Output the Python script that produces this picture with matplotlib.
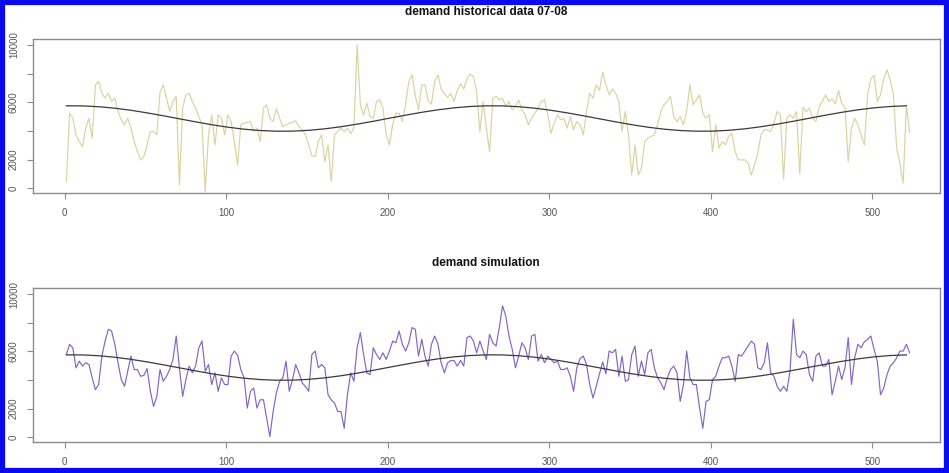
import numpy as np
import matplotlib
matplotlib.use("Agg")
import matplotlib.pyplot as plt
from matplotlib.patches import Rectangle

# ---------------- data ----------------
# observation index (every 2nd period read from the picture)
obs_x = np.arange(1, 524, 2)

historical = [
    470, 5240, 4890, 3730, 3260, 2910, 4190, 4890, 3500, 7220,
    7460, 6640, 6290, 6640, 6060, 6290, 5360, 4780, 4430, 4890,
    4190, 3260, 2560, 1980, 2210, 3030, 3960, 3960, 3730, 6710,
    7220, 6290, 5360, 6060, 6410, 230, 5590, 6520, 6640, 6060,
    5590, 5010, 4430, -250, 3730, 5130, 3030, 5130,
    4890, 3730, 5130, 4660, 3260, 1630, 4430, 4540, 4610, 4660,
    3960, 4190, 3260, 5590, 5830, 4890, 4660, 5550, 4890, 4310,
    4430, 4540, 4610, 4710, 4310, 4080, 3730, 3030, 2280, 2210,
    3260, 3730, 1860, 3030, 470, 3730, 3960, 4190, 3960, 4190,
    3840, 4190, 10020, 5830, 5130, 5940, 5010, 4890, 6060, 6170,
    5590, 3730, 3030, 4430, 5240,
    5240, 4660, 5830, 7460, 7920, 6480, 5470, 7220, 7220, 6130,
    5890, 7460, 7920, 6940, 6600, 6360, 6600, 6060, 6830, 7290,
    6940, 7640, 7970, 7800, 6710, 3960, 6060, 4190, 2560, 6290,
    6410, 6170, 6290, 5710, 6060, 5470, 5710, 6170, 5470, 5130,
    4430, 4890, 5240, 5590, 6060, 6170, 5130, 3840, 4540, 5130,
    4780, 4890, 4190, 5010, 4080, 4660,
    4430, 3730, 5360, 6640, 6290, 7220, 6830, 8110, 7220, 6520,
    6940, 6640, 6060, 3960, 5360, 3730, 930, 3030, 930, 1400,
    3260, 3500, 3610, 3730, 4430, 5360, 5830, 6060, 6410, 5010,
    4660, 5010, 4430, 5360, 7220, 5830, 6170, 6520, 5240, 4890,
    5130, 2560, 4430, 2800, 3260, 3030, 3610, 3840, 2560, 1980,
    1980, 1980, 1750, 930, 1630, 2450,
    3730, 4080, 4080, 3960, 4540, 5360, 5130, 650, 4890, 5130,
    4890, 5360, 1000, 5660, 5360, 5590, 4890, 4660, 5660, 6060,
    6520, 6060, 6240, 5890, 6830, 5890, 5660, 1860, 4190, 4890,
    4430, 3730, 3030, 6520, 7640, 7880, 6060, 6520, 7640, 8270,
    7570, 6520, 2800, 1750, 350, 5800, 3900,
]

simulation = [
    5780, 6490, 6250, 4850, 5320, 4970, 5200, 5080, 4150, 3330,
    3680, 5670, 6720, 7540, 7420, 6490, 5200, 4030, 3560, 4610,
    5670, 4730, 4730, 4260, 4330, 4800, 3210, 2150, 2860, 4730,
    3910, 4260, 4730, 5430, 7070, 4850, 2860, 4030, 4970, 4500,
    4970, 6250, 6720, 4610, 5080, 3680, 4500, 3210,
    4150, 3680, 3680, 5670, 6020, 5740, 4730, 4150, 2040, 3210,
    3440, 2040, 2620, 2620, 1330, 50, 1800, 3090, 3910, 4150,
    5320, 3210, 4030, 5080, 4500, 3790, 3560, 3210, 5780, 6020,
    4850, 5080, 4850, 2970, 2620, 2390, 1800, 1800, 630, 2970,
    4500, 3910, 6250, 7310, 5780, 4500, 4380, 6250, 5780, 5430,
    5900, 5430, 6020, 6720, 6600,
    7420, 6490, 6020, 6600, 7660, 7540, 5670, 6840, 5670, 4970,
    6490, 7070, 6530, 5200, 4500, 5200, 5360, 5360, 4970, 5360,
    4970, 6960, 7070, 6720, 5900, 6720, 6020, 5430, 7190, 6600,
    6370, 7660, 9180, 8480, 7070, 6140, 4850, 5670, 6600, 6250,
    5430, 7070, 7190, 5320, 5780, 5200, 5670, 5430, 5200, 5320,
    4730, 4730, 4850, 4260, 3210, 4850,
    5500, 5670, 5080, 3680, 2740, 3560, 4430, 5270, 4430, 6020,
    5900, 6140, 4260, 5670, 3910, 4030, 5780, 6370, 4260, 5320,
    4380, 5900, 6140, 4850, 4150, 3790, 3330, 4150, 4730, 4970,
    4500, 2510, 3680, 6020, 4150, 3680, 3680, 2040, 630, 2510,
    2620, 4030, 4260, 4970, 5550, 5550, 5670, 4970, 3910, 5780,
    5670, 6020, 6370, 6720, 6490, 4850,
    4730, 5200, 6600, 4500, 4260, 3560, 3210, 3560, 3210, 4660,
    8240, 5780, 5550, 6020, 5780, 4380, 3910, 5670, 5900, 4970,
    4970, 5430, 2970, 3910, 4970, 4030, 4850, 6960, 3680, 5550,
    6490, 6250, 6670, 6840, 7070, 6140, 5320, 2970, 3440, 4380,
    4970, 5200, 5550, 6020, 6020, 6490, 5900,
]

# smooth seasonal curve (read every 10 periods)
curve_x = np.arange(1, 524, 10)
seasonal = [
    5756, 5751, 5694, 5590, 5444, 5264, 5062, 4849, 4637, 4437,
    4264, 4125, 4031, 3984, 3989, 4046, 4150, 4296, 4476, 4677,
    4892, 5103, 5303, 5476, 5615, 5709, 5756, 5751, 5694, 5590,
    5444, 5264, 5062, 4849, 4637, 4437, 4264, 4125, 4031, 3984,
    3989, 4046, 4150, 4296, 4476, 4677, 4892, 5103, 5303, 5476,
    5615, 5709, 5756,
]

titles = ["demand historical data 07-08", "demand simulation"]
xticks = [0, 100, 200, 300, 400, 500]
yticks = [0, 2000, 4000, 6000, 8000, 10000]
ytick_labels = ["0", "2000", "", "6000", "", "10000"]

# ---------------- figure ----------------
plt.rcParams["font.family"] = ["Liberation Sans", "DejaVu Sans"]
fig = plt.figure(figsize=(9.49, 4.73), dpi=100)
fig.patch.set_facecolor("white")

# blue frame round the picture
fig.patches.append(Rectangle((0.0025, 0.005), 0.995, 0.99, transform=fig.transFigure,
                             fill=False, edgecolor="#0A0AF0", linewidth=4.5))

ax_top = fig.add_axes([0.0345, 0.592, 0.956, 0.3255])
ax_bot = fig.add_axes([0.0345, 0.0655, 0.956, 0.3255])

series = [historical, simulation]
colors = ["#DCD2A0", "#8464C4"]
for ax, ys, col in zip([ax_top, ax_bot], series, colors):
    ax.plot(obs_x, ys, color=col, lw=0.85)
    ax.plot(curve_x, seasonal, color="#3A3A3A", lw=0.9)
    ax.set_xlim(-19.8, 541.8)
    ax.set_ylim(-330, 10420)
    ax.set_xticks(xticks)
    ax.set_xticklabels([str(t) for t in xticks])
    ax.set_yticks(yticks)
    ax.set_yticklabels(ytick_labels, rotation=90, va="center")
    for s in ax.spines.values():
        s.set_color("#8C8C8C")
        s.set_linewidth(1.0)
    ax.tick_params(axis="both", colors="#8C8C8C", labelcolor="#555555",
                   length=4, width=0.8, labelsize=7, direction="out")
    ax.tick_params(axis="x", pad=7)
    ax.tick_params(axis="y", pad=6)

fig.text(0.512, 0.975, titles[0], ha="center", va="center",
         fontsize=8.5, fontweight="bold", color="#111111")
fig.text(0.512, 0.444, titles[1], ha="center", va="center",
         fontsize=8.5, fontweight="bold", color="#111111")

fig.savefig("out.png", dpi=100, facecolor="white")
